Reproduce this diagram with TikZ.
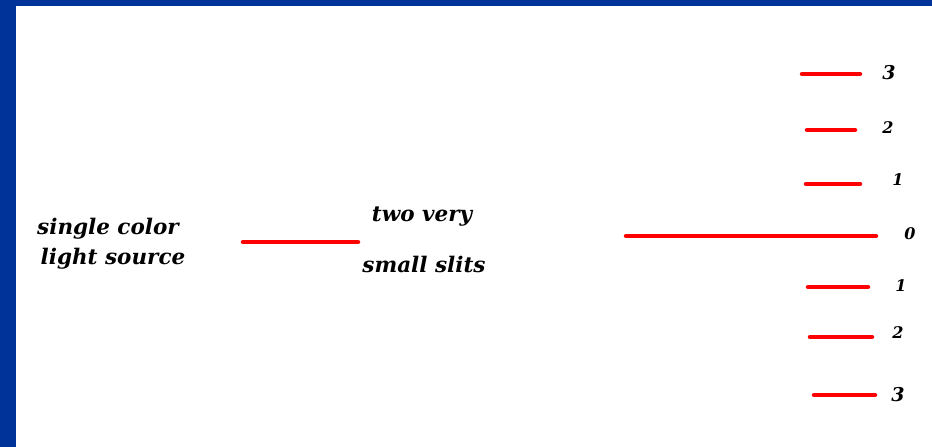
\documentclass[tikz,border=0pt]{standalone}
\usepackage{fontspec}
\setmainfont{DejaVu Serif}
\definecolor{frameblue}{HTML}{003399}
\begin{document}
\begin{tikzpicture}[x=1pt,y=-1pt,
  fringe/.style={draw=red,line width=4.5pt,line cap=round},
  lbl/.style={font=\itshape\bfseries\fontsize{21.5}{24}\selectfont,inner sep=0pt},
  ord/.style={font=\itshape\bfseries\fontsize{19}{21}\selectfont,inner sep=0pt},
  ordsm/.style={font=\itshape\bfseries\fontsize{16}{18}\selectfont,inner sep=0pt}]
\useasboundingbox (0,0) rectangle (932,447);
% frame
\fill[white] (0,0) rectangle (932,447);
\fill[frameblue] (0,0) rectangle (932,6);
\fill[frameblue] (0,0) rectangle (16,447);

% source and slits
\node[lbl] (src1) at (108,229) {single color};
\node[lbl] (src2) at (113,259) {light source};
\coordinate (sa) at (243,242);
\coordinate (sb) at (358,242);
\draw[fringe] (sa) -- (sb);
\node[lbl] (sl1) at (422,217) {two very};
\node[lbl] (sl2) at (424,264) {small slits};

% interference fringes on the screen
\coordinate (c3a) at (802,74);  \coordinate (c3b) at (860,74);
\coordinate (c2a) at (807,130); \coordinate (c2b) at (855,130);
\coordinate (c1a) at (806,184); \coordinate (c1b) at (860,184);
\coordinate (c0a) at (626,236); \coordinate (c0b) at (876,236);
\coordinate (d1a) at (808,287); \coordinate (d1b) at (868,287);
\coordinate (d2a) at (810,337); \coordinate (d2b) at (872,337);
\coordinate (d3a) at (814,395); \coordinate (d3b) at (875,395);
\foreach \a/\b in {c3a/c3b,c2a/c2b,c1a/c1b,c0a/c0b,d1a/d1b,d2a/d2b,d3a/d3b}
  \draw[fringe] (\a) -- (\b);

\node[ord]   (n3u) at (889,73)  {3};
\node[ordsm] (n2u) at (888,128) {2};
\node[ordsm] (n1u) at (898,180) {1};
\node[ordsm] (n0)  at (910,234) {0};
\node[ordsm] (n1d) at (901,286) {1};
\node[ordsm] (n2d) at (898,333) {2};
\node[ord]   (n3d) at (898,395) {3};
\end{tikzpicture}
\end{document}
